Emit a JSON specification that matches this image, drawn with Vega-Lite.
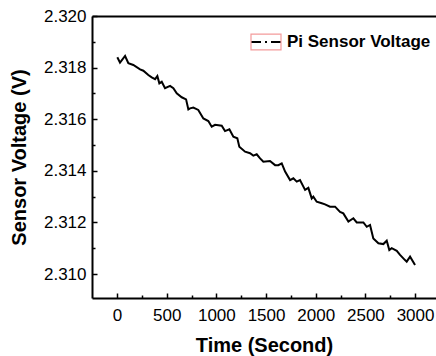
{
  "$schema": "https://vega.github.io/schema/vega-lite/v6.json",
  "width": 344,
  "height": 282,
  "autosize": {"type": "none"},
  "padding": {"left": 92, "top": 16, "right": 0, "bottom": 58},
  "background": "white",
  "config": {
    "view": {"stroke": null},
    "font": "Liberation Sans",
    "axis": {
      "labelColor": "black",
      "labelFont": "Liberation Sans",
      "labelFontSize": 17,
      "titleFont": "Liberation Sans",
      "titleFontSize": 20,
      "titleFontWeight": "bold",
      "titleColor": "black",
      "grid": false
    }
  },
  "resolve": {"axis": {"x": "independent", "y": "independent"}},
  "datasets": {
    "series": [
      {"time": 3, "voltage": 2.31840},
      {"time": 30, "voltage": 2.31819},
      {"time": 81, "voltage": 2.31845},
      {"time": 114, "voltage": 2.31817},
      {"time": 164, "voltage": 2.31810},
      {"time": 232, "voltage": 2.31793},
      {"time": 265, "voltage": 2.31788},
      {"time": 315, "voltage": 2.31771},
      {"time": 349, "voltage": 2.31762},
      {"time": 383, "voltage": 2.31755},
      {"time": 406, "voltage": 2.31767},
      {"time": 426, "voltage": 2.31739},
      {"time": 450, "voltage": 2.31745},
      {"time": 483, "voltage": 2.31720},
      {"time": 534, "voltage": 2.31729},
      {"time": 567, "voltage": 2.31720},
      {"time": 601, "voltage": 2.31700},
      {"time": 651, "voltage": 2.31685},
      {"time": 695, "voltage": 2.31677},
      {"time": 718, "voltage": 2.31638},
      {"time": 735, "voltage": 2.31642},
      {"time": 768, "voltage": 2.31645},
      {"time": 818, "voltage": 2.31636},
      {"time": 869, "voltage": 2.31603},
      {"time": 919, "voltage": 2.31593},
      {"time": 953, "voltage": 2.31571},
      {"time": 987, "voltage": 2.31578},
      {"time": 1054, "voltage": 2.31575},
      {"time": 1087, "voltage": 2.31554},
      {"time": 1131, "voltage": 2.31561},
      {"time": 1171, "voltage": 2.31532},
      {"time": 1211, "voltage": 2.31526},
      {"time": 1231, "voltage": 2.31493},
      {"time": 1289, "voltage": 2.31474},
      {"time": 1339, "voltage": 2.31468},
      {"time": 1372, "voltage": 2.31459},
      {"time": 1406, "voltage": 2.31464},
      {"time": 1440, "voltage": 2.31448},
      {"time": 1473, "voltage": 2.31435},
      {"time": 1540, "voltage": 2.31438},
      {"time": 1591, "voltage": 2.31422},
      {"time": 1624, "voltage": 2.31422},
      {"time": 1658, "voltage": 2.31429},
      {"time": 1692, "voltage": 2.31397},
      {"time": 1742, "voltage": 2.31364},
      {"time": 1775, "voltage": 2.31371},
      {"time": 1809, "voltage": 2.31358},
      {"time": 1842, "voltage": 2.31364},
      {"time": 1893, "voltage": 2.31326},
      {"time": 1926, "voltage": 2.31334},
      {"time": 1960, "voltage": 2.31293},
      {"time": 1976, "voltage": 2.31300},
      {"time": 2010, "voltage": 2.31280},
      {"time": 2061, "voltage": 2.31274},
      {"time": 2094, "voltage": 2.31270},
      {"time": 2144, "voltage": 2.31261},
      {"time": 2195, "voltage": 2.31261},
      {"time": 2245, "voltage": 2.31241},
      {"time": 2278, "voltage": 2.31235},
      {"time": 2329, "voltage": 2.31203},
      {"time": 2379, "voltage": 2.31216},
      {"time": 2413, "voltage": 2.31200},
      {"time": 2480, "voltage": 2.31200},
      {"time": 2514, "voltage": 2.31183},
      {"time": 2547, "voltage": 2.31190},
      {"time": 2580, "voltage": 2.31138},
      {"time": 2631, "voltage": 2.31119},
      {"time": 2681, "voltage": 2.31116},
      {"time": 2715, "voltage": 2.31129},
      {"time": 2741, "voltage": 2.31093},
      {"time": 2765, "voltage": 2.31100},
      {"time": 2816, "voltage": 2.31090},
      {"time": 2849, "voltage": 2.31074},
      {"time": 2899, "voltage": 2.31054},
      {"time": 2916, "voltage": 2.31048},
      {"time": 2950, "voltage": 2.31067},
      {"time": 3000, "voltage": 2.31035}
    ]
  },
  "layer": [
    {
      "data": {"name": "series"},
      "mark": {"type": "line", "strokeWidth": 2, "interpolate": "linear"},
      "encoding": {
        "x": {
          "field": "time",
          "type": "quantitative",
          "title": "Time (Second)",
          "scale": {"domain": [-252, 3211], "nice": false, "zero": false},
          "axis": {
            "orient": "bottom",
            "values": [0, 500, 1000, 1500, 2000, 2500, 3000],
            "tickSize": -5,
            "tickColor": "black",
            "tickWidth": 1.5,
            "domainColor": "black",
            "domainWidth": 2,
            "labelPadding": 14,
            "labelFlush": false,
            "titlePadding": 12,
            "format": "d"
          }
        },
        "y": {
          "field": "voltage",
          "type": "quantitative",
          "title": "Sensor Voltage (V)",
          "scale": {"domain": [2.30907, 2.320], "nice": false, "zero": false},
          "axis": {
            "orient": "left",
            "values": [2.310, 2.312, 2.314, 2.316, 2.318, 2.320],
            "format": ".3f",
            "tickSize": -5,
            "tickColor": "black",
            "tickWidth": 1.5,
            "domainColor": "black",
            "domainWidth": 2,
            "labelPadding": 11,
            "labelFlush": false,
            "titlePadding": 14
          }
        },
        "stroke": {
          "datum": "Pi Sensor Voltage",
          "scale": {"range": ["black"]},
          "legend": {
            "title": null,
            "orient": "none",
            "legendX": 158,
            "legendY": 10,
            "symbolType": "stroke",
            "symbolSize": 900,
            "symbolStrokeWidth": 2,
            "symbolDash": [10, 4, 2, 4],
            "labelFont": "Liberation Sans",
            "labelFontSize": 17,
            "labelFontWeight": "bold",
            "labelColor": "black",
            "labelOffset": 5
          }
        }
      }
    },
    {
      "data": {"name": "series"},
      "transform": [{"filter": "datum.time < 0"}],
      "mark": {"type": "point", "filled": false, "color": "#f39b9b", "opacity": 1},
      "encoding": {
        "x": {
          "field": "time",
          "type": "quantitative",
          "axis": {
            "orient": "bottom",
            "values": [250, 750, 1250, 1750, 2250, 2750],
            "offset": -3,
            "tickSize": 3,
            "tickWidth": 1.5,
            "tickColor": "black",
            "labels": false,
            "domain": false,
            "title": null
          }
        },
        "y": {
          "field": "voltage",
          "type": "quantitative",
          "axis": {
            "orient": "left",
            "values": [2.311, 2.313, 2.315, 2.317, 2.319],
            "offset": -3,
            "tickSize": 3,
            "tickWidth": 1.5,
            "tickColor": "black",
            "labels": false,
            "domain": false,
            "title": null
          }
        },
        "shape": {
          "datum": "box",
          "scale": {"range": ["M-1,-0.53H1V0.53H-1Z"]},
          "legend": {
            "title": null,
            "orient": "none",
            "legendX": 158,
            "legendY": 10,
            "symbolSize": 900,
            "symbolStrokeWidth": 1.2,
            "symbolStrokeColor": "#f39b9b",
            "symbolFillColor": "transparent",
            "labelExpr": "''",
            "labelFontSize": 17,
            "labelOffset": 5
          }
        }
      }
    },
    {
      "data": {"name": "series"},
      "transform": [{"filter": "datum.time < 0"}],
      "mark": {"type": "point"},
      "encoding": {
        "x": {
          "field": "time",
          "type": "quantitative",
          "axis": {
            "orient": "top",
            "ticks": false,
            "labels": false,
            "domain": true,
            "domainColor": "black",
            "domainWidth": 2,
            "title": null
          }
        },
        "y": {"field": "voltage", "type": "quantitative", "axis": null}
      }
    }
  ]
}
